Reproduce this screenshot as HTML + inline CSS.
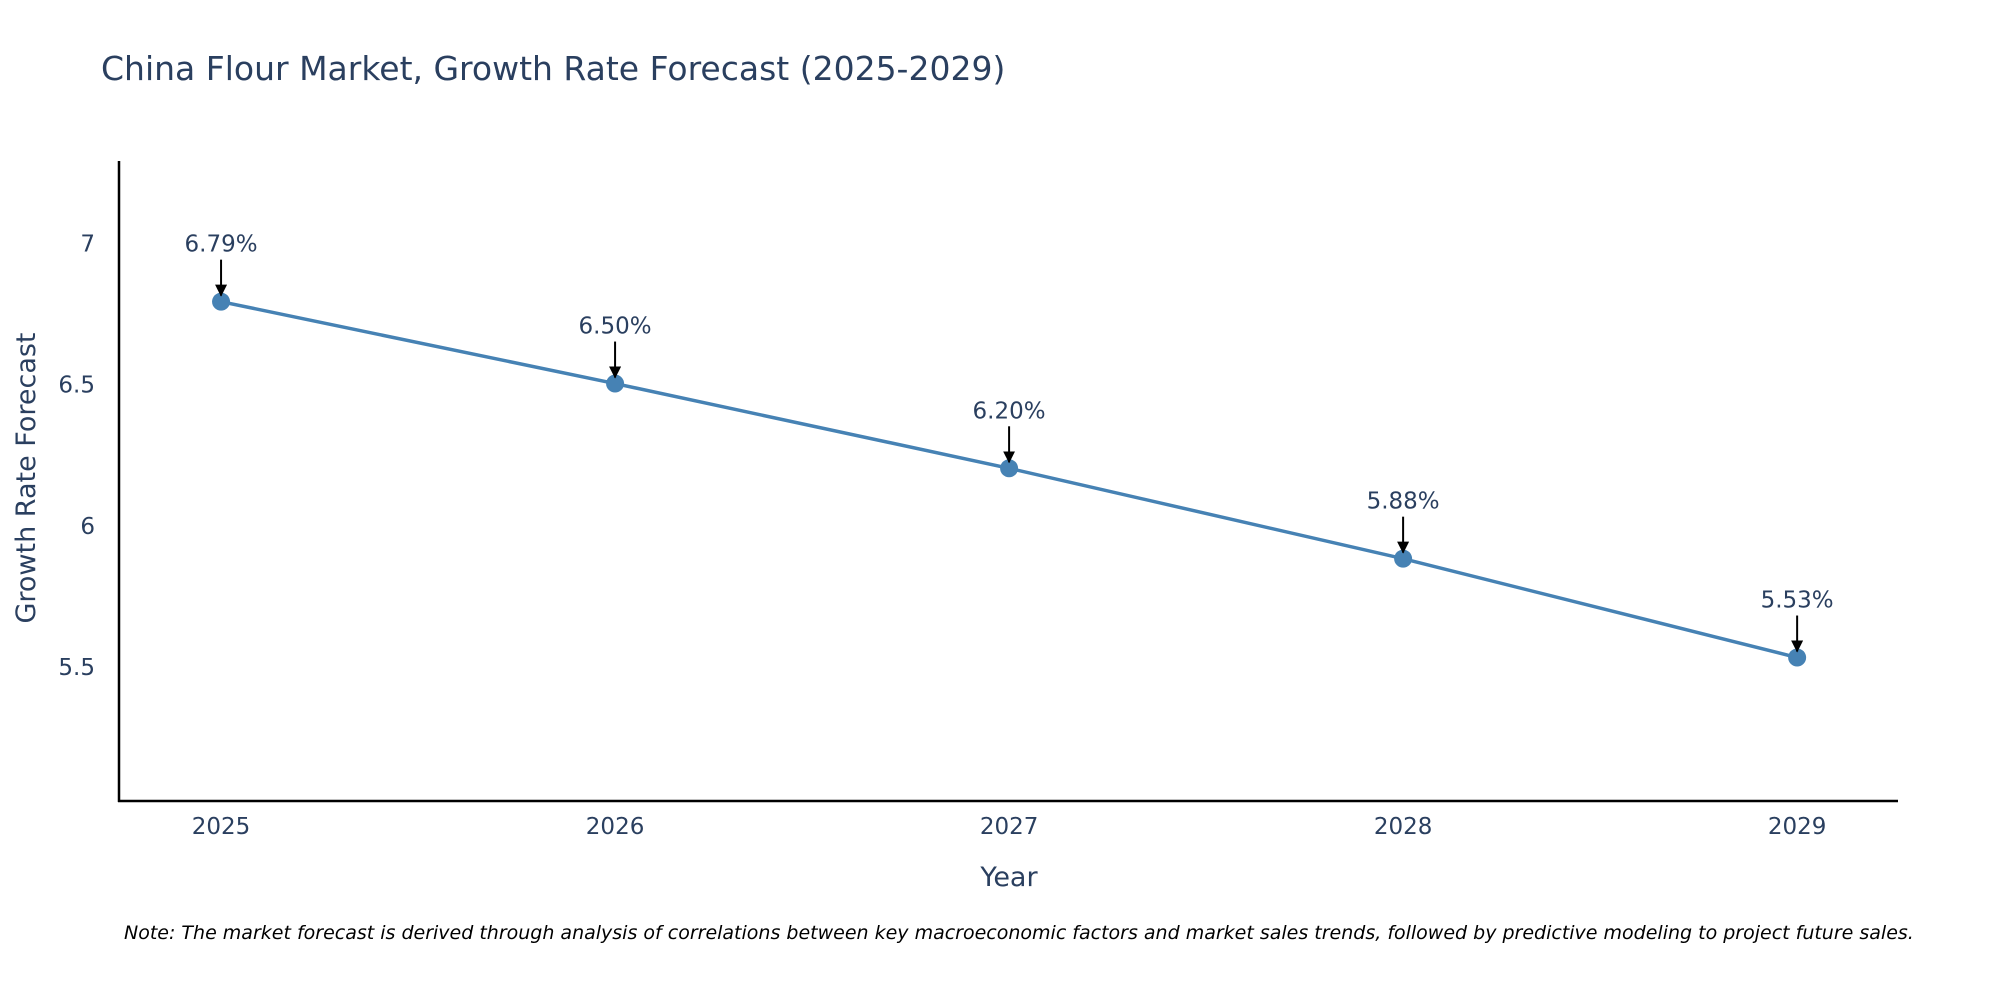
<!DOCTYPE html>
<html>
<head>
<meta charset="utf-8">
<style>
  html,body{margin:0;padding:0;background:#fff;}
  svg{display:block;font-family:"DejaVu Sans","Liberation Sans",sans-serif;}
</style>
</head>
<body>
<svg id="chart" width="2000" height="1000" viewBox="0 0 2000 1000" xmlns="http://www.w3.org/2000/svg">
  <defs>
    <marker id="arrowhead" markerWidth="12" markerHeight="12" refX="11" refY="6" orient="auto" markerUnits="userSpaceOnUse">
      <path d="M0,0 L12,6 L0,12 Z" fill="#000"/>
    </marker>
  </defs>
  <text x="101" y="80" font-size="33" fill="#2a3f5f">China Flour Market, Growth Rate Forecast (2025-2029)</text>
  <g id="yticks"></g>
  <g id="xticks"></g>
  <line x1="119" y1="161" x2="119" y2="802" stroke="#000" stroke-width="2.5"/>
  <line x1="118" y1="801" x2="1898" y2="801" stroke="#000" stroke-width="2.5"/>
  <g id="series"></g>
  <g id="annotations"></g>
  <text x="0" y="0" transform="translate(35,478) rotate(-90)" text-anchor="middle" font-size="27" fill="#2a3f5f">Growth Rate Forecast</text>
  <text x="1009" y="886" text-anchor="middle" font-size="27" fill="#2a3f5f">Year</text>
  <text x="124" y="939" font-size="19" font-style="italic" fill="#000">Note: The market forecast is derived through analysis of correlations between key macroeconomic factors and market sales trends, followed by predictive modeling to project future sales.</text>
</svg>
<script>
const years = [2025, 2026, 2027, 2028, 2029];
const growthValues = [6.79, 6.50, 6.20, 5.88, 5.53];
const valueLabels = ["6.79%", "6.50%", "6.20%", "5.88%", "5.53%"];
const yTickValues = [5.5, 6, 6.5, 7];
const yTickLabels = ["5.5", "6", "6.5", "7"];

const NS = "http://www.w3.org/2000/svg";
const plotLeft = 119, plotRight = 1898, plotTop = 161, plotBottom = 801;
const xMin = 2024.741, xMax = 2029.256, yMin = 5.022, yMax = 7.288;
function xScale(v){ return plotLeft + (v - xMin) / (xMax - xMin) * (plotRight - plotLeft); }
function yScale(v){ return plotBottom - (v - yMin) / (yMax - yMin) * (plotBottom - plotTop); }
function mk(tag, attrs, parent){
  const el = document.createElementNS(NS, tag);
  for (const k in attrs) el.setAttribute(k, attrs[k]);
  parent.appendChild(el);
  return el;
}

const yG = document.getElementById("yticks");
yTickValues.forEach((v, i) => {
  const t = mk("text", {x: 95, y: yScale(v) + 9, "text-anchor": "end", "font-size": "23", fill: "#2a3f5f"}, yG);
  
  
  t.textContent = yTickLabels[i];
});

const xG = document.getElementById("xticks");
years.forEach((yr) => {
  const t = mk("text", {x: xScale(yr), y: 834, "text-anchor": "middle", "font-size": "23", fill: "#2a3f5f"}, xG);
  
  
  t.textContent = String(yr);
});

const sG = document.getElementById("series");
const pts = years.map((yr, i) => xScale(yr) + "," + yScale(growthValues[i])).join(" ");
const line = mk("polyline", {points: pts, fill: "none", stroke: "#4682B4", "stroke-width": "3.5"}, sG);


years.forEach((yr, i) => {
  const c = mk("circle", {cx: xScale(yr), cy: yScale(growthValues[i]), r: 9, fill: "#4682B4"}, sG);
  
  
});

const aG = document.getElementById("annotations");
years.forEach((yr, i) => {
  const x = xScale(yr), y = yScale(growthValues[i]);
  const a = mk("line", {x1: x, y1: y - 42, x2: x, y2: y - 6, stroke: "#000", "stroke-width": "2", "marker-end": "url(#arrowhead)"}, aG);
  
  
  const t = mk("text", {x: x, y: y - 50, "text-anchor": "middle", "font-size": "23", fill: "#2a3f5f"}, aG);
  
  
  t.textContent = valueLabels[i];
});
</script>
</body>
</html>
